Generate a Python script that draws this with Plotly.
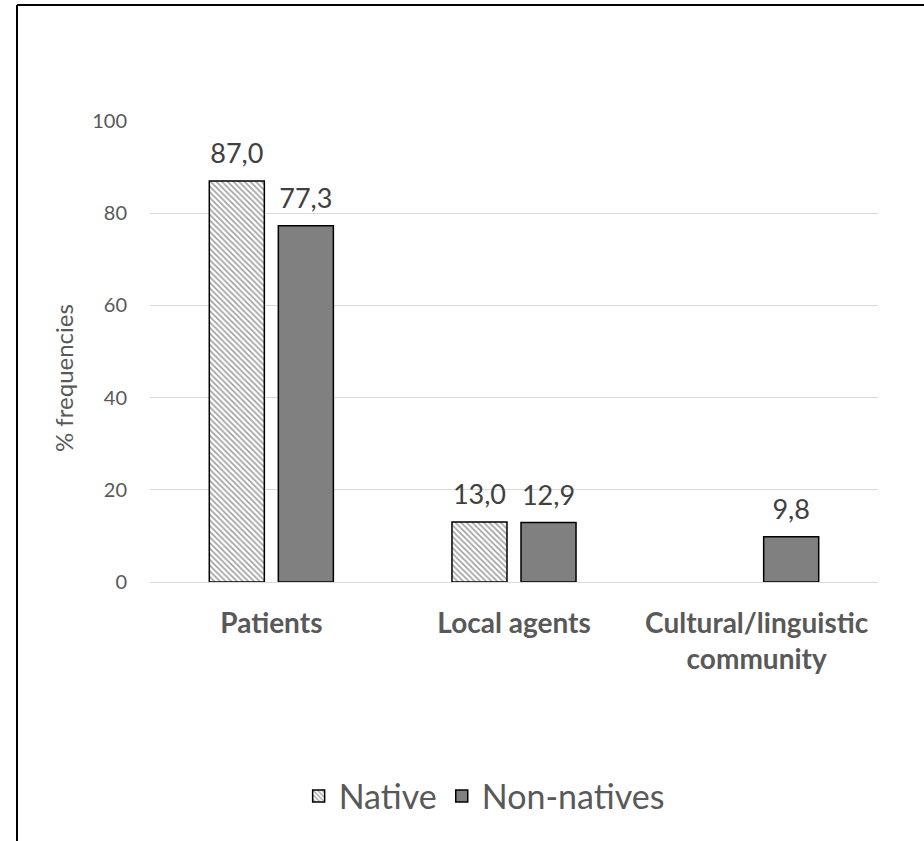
import plotly.graph_objects as go

categories = ["Patients", "Local agents", "Cultural/linguistic<br>community"]
native = [87.0, 13.0, None]
non_natives = [77.3, 12.9, 9.8]
y_ticks = [0, 20, 40, 60, 80, 100]

def fmt(v):
    return "" if v is None else f"{v:.1f}".replace(".", ",")

FONT = "Lato, 'Open Sans', sans-serif"
TXT = "#595959"
LBL = dict(size=27, color="#404040", family=FONT)

fig = go.Figure()
fig.add_trace(go.Bar(
    x=categories, y=native, name="Native", offsetgroup="a",
    marker=dict(color="white", line=dict(color="black", width=1.5),
                pattern=dict(shape="\\", fgcolor="#404040", bgcolor="white",
                             size=4, solidity=0.4)),
))
fig.add_trace(go.Bar(
    x=categories, y=non_natives, name="Non-natives", offsetgroup="b",
    marker=dict(color="#808080", line=dict(color="black", width=1.5)),
))
for vals, grp in ((native, "a"), (non_natives, "b")):
    fig.add_trace(go.Scatter(
        x=categories, y=vals, mode="markers+text", offsetgroup=grp,
        text=[fmt(v) for v in vals], textposition="top center", textfont=LBL,
        marker=dict(size=16, opacity=0), showlegend=False, hoverinfo="skip",
        cliponaxis=False,
    ))

fig.update_layout(
    width=924, height=841,
    margin=dict(l=150, r=46, t=121, b=259),
    paper_bgcolor="white", plot_bgcolor="white",
    barmode="group", bargap=0.431, bargroupgap=0.203,
    scattermode="group", scattergap=0.431,
    font=dict(family=FONT, color=TXT),
    showlegend=True,
    legend=dict(orientation="h", x=0.459, xanchor="center", y=-0.465, yanchor="middle",
                font=dict(size=34, color=TXT, family=FONT), itemwidth=30,
                traceorder="normal"),
    shapes=[
        dict(type="line", xref="paper", yref="paper", x0=-0.1827, x1=1.07, y0=1.2516, y1=1.2516,
             line=dict(color="black", width=2)),
        dict(type="line", xref="paper", yref="paper", x0=-0.1827, x1=-0.1827, y0=1.2516, y1=-0.6,
             line=dict(color="black", width=2)),
    ],
    annotations=[dict(text="% frequencies", textangle=-90, xref="paper", yref="paper",
                      x=-0.1195, y=0.4425, showarrow=False, xanchor="center", yanchor="middle",
                      font=dict(size=24, color=TXT, family=FONT))],
)
fig.update_yaxes(
    range=[0, 100], tickvals=y_ticks, showgrid=True, gridcolor="#d9d9d9", gridwidth=1,
    zeroline=True, zerolinecolor="#d9d9d9", zerolinewidth=1, showline=False,
    tickfont=dict(size=20, color=TXT, family=FONT), ticklabelstandoff=22,
)
fig.update_xaxes(
    showline=False, showgrid=False,
    tickfont=dict(size=28, color=TXT, family=FONT, weight="bold"), ticklabelstandoff=22,
)

fig.write_html("out.html")
